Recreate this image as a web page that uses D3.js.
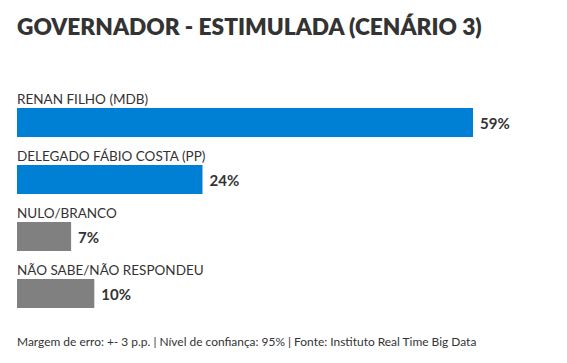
<!DOCTYPE html>
<html><head><meta charset="utf-8">
<script src="https://cdn.jsdelivr.net/npm/d3@7"></script>
<style>body{margin:0;background:#fff}svg{display:block}text{font-family:Lato,"Noto Sans",sans-serif}</style>
</head><body>
<script>
const categories = ["RENAN FILHO (MDB)", "DELEGADO FÁBIO COSTA (PP)", "NULO/BRANCO", "NÃO SABE/NÃO RESPONDEU"];
const values = [59, 24, 7, 10];
const colors = ["#0080d5", "#0080d5", "#808080", "#808080"];
const title = "GOVERNADOR - ESTIMULADA (CENÁRIO 3)";
const footer = "Margem de erro: +- 3 p.p. | Nível de confiança: 95% | Fonte: Instituto Real Time Big Data";

const W = 567, H = 363;
const svg = d3.select("body").append("svg").attr("width", W).attr("height", H);

function fit(sel, target, base) {
  const w = sel.node().getComputedTextLength();
  sel.attr("font-size", base * target / w);
}

const t = svg.append("text").attr("x", 17).attr("y", 35)
  .attr("font-size", 27).attr("font-weight", 800).attr("fill", "#333")
  .text(title);
fit(t, 465, 27);

const x = d3.scaleLinear().domain([0, 59]).range([17, 473]);
const y = d3.scaleBand().domain(categories).range([89, 317]).paddingInner(0).paddingOuter(0);
const barH = 29;

const g = svg.selectAll("g.row").data(categories).join("g").attr("class", "row")
  .attr("transform", d => `translate(0,${y(d)})`);

g.append("text").attr("x", 17).attr("y", 15)
  .attr("font-size", 13.5).attr("fill", "#333").text(d => d);

g.append("rect").attr("x", x(0)).attr("y", 19)
  .attr("width", (d, i) => x(values[i]) - x(0)).attr("height", barH)
  .attr("fill", (d, i) => colors[i]);

g.append("text").attr("x", (d, i) => x(values[i]) + 7).attr("y", 40)
  .attr("font-size", 15).attr("font-weight", 700).attr("fill", "#333")
  .text((d, i) => values[i] + "%");

const f = svg.append("text").attr("x", 17).attr("y", 346)
  .attr("font-size", 12).attr("fill", "#333")
  .text(footer);
fit(f, 460, 12);
</script>
</body></html>
